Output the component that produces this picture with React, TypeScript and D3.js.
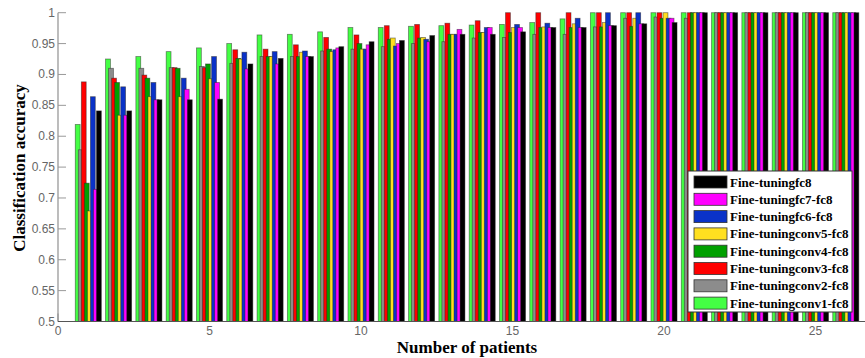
import { useRef, useEffect } from "react";
import * as d3 from "d3";

const patients = d3.range(1, 27);

const seriesNames = [
  "Fine-tuningconv1-fc8",
  "Fine-tuningconv2-fc8",
  "Fine-tuningconv3-fc8",
  "Fine-tuningconv4-fc8",
  "Fine-tuningconv5-fc8",
  "Fine-tuningfc6-fc8",
  "Fine-tuningfc7-fc8",
  "Fine-tuningfc8",
];

const seriesColors = ["#44ff44", "#8c8c8c", "#ff0000", "#00a000", "#ffe020", "#0a32c8", "#ff00ff", "#000000"];

// one array per series, values for patients 1..26
const conv1 = [0.819, 0.925, 0.929, 0.937, 0.943, 0.95, 0.964, 0.965, 0.969, 0.976, 0.976, 0.978, 0.979, 0.98, 0.981, 0.984, 0.99, 1, 1, 1, 1, 1, 1, 1, 1, 1];
const conv2 = [0.778, 0.91, 0.91, 0.911, 0.913, 0.918, 0.929, 0.929, 0.938, 0.941, 0.945, 0.95, 0.953, 0.959, 0.96, 0.965, 0.965, 0.977, 0.991, 0.993, 0.991, 1, 1, 1, 1, 1];
const conv3 = [0.888, 0.894, 0.899, 0.911, 0.911, 0.94, 0.941, 0.948, 0.96, 0.964, 0.979, 0.981, 0.983, 0.987, 1, 1, 1, 1, 1, 1, 1, 1, 1, 1, 1, 1];
const conv4 = [0.724, 0.887, 0.894, 0.91, 0.917, 0.926, 0.929, 0.929, 0.941, 0.95, 0.957, 0.959, 0.965, 0.968, 0.968, 0.976, 0.976, 0.977, 0.978, 0.991, 1, 1, 1, 1, 1, 1];
const conv5 = [0.679, 0.834, 0.864, 0.864, 0.893, 0.925, 0.929, 0.936, 0.937, 0.941, 0.959, 0.96, 0.965, 0.968, 0.976, 0.977, 0.982, 0.984, 0.991, 1, 1, 1, 1, 1, 1, 1];
const fc6 = [0.864, 0.88, 0.887, 0.894, 0.929, 0.936, 0.937, 0.938, 0.94, 0.941, 0.946, 0.957, 0.965, 0.976, 0.981, 0.983, 0.991, 1, 1, 0.991, 1, 1, 1, 1, 1, 1];
const fc7 = [0.714, 0.834, 0.859, 0.876, 0.887, 0.909, 0.917, 0.929, 0.943, 0.948, 0.95, 0.953, 0.973, 0.976, 0.976, 0.976, 0.976, 0.979, 0.982, 0.991, 1, 1, 1, 1, 1, 1];
const fc8 = [0.841, 0.841, 0.859, 0.859, 0.86, 0.917, 0.926, 0.929, 0.945, 0.953, 0.955, 0.963, 0.965, 0.965, 0.969, 0.976, 0.976, 0.979, 0.982, 0.984, 1, 1, 1, 1, 1, 1];

const seriesValues = [conv1, conv2, conv3, conv4, conv5, fc6, fc7, fc8];

const yTicks = d3.range(0.5, 1.0001, 0.05);
const xTicks = [0, 5, 10, 15, 20, 25];

export default function App() {
  const svgRef = useRef<SVGSVGElement>(null);

  useEffect(() => {
    if (!svgRef.current) return;
    const svg = d3.select(svgRef.current);
    svg.selectAll("*").remove();

    const left = 58;
    const top = 12.7;
    const bottom = 321.5;

    const x = d3.scaleLinear().domain([0, 27]).range([left, left + 27 * 30.3]);
    const y = d3.scaleLinear().domain([0.5, 1]).range([bottom, top]);

    // x ticks (inward, behind bars)
    svg
      .append("g")
      .selectAll("line")
      .data(xTicks)
      .join("line")
      .attr("x1", (d) => x(d))
      .attr("x2", (d) => x(d))
      .attr("y1", bottom)
      .attr("y2", bottom - 8)
      .attr("stroke", "#777");

    const bw = 0.16;
    const step = 0.1;
    seriesValues.forEach((vals, i) => {
      svg
        .append("g")
        .selectAll("rect")
        .data(vals)
        .join("rect")
        .attr("x", (_, j) => x(patients[j] + (i - 3.5) * step - bw / 2))
        .attr("y", (d) => y(Math.min(d, 1)))
        .attr("width", x(bw) - x(0))
        .attr("height", (d) => bottom - y(Math.min(d, 1)))
        .attr("fill", seriesColors[i])
        .attr("stroke", "#222")
        .attr("stroke-opacity", 0.55)
        .attr("stroke-width", 0.8);
    });

    // y axis
    svg
      .append("line")
      .attr("x1", left)
      .attr("x2", left)
      .attr("y1", top)
      .attr("y2", bottom)
      .attr("stroke", "#999")
      .attr("stroke-width", 1.3);
    svg
      .append("g")
      .selectAll("line")
      .data(yTicks)
      .join("line")
      .attr("x1", left)
      .attr("x2", left + 8)
      .attr("y1", (d) => y(d))
      .attr("y2", (d) => y(d))
      .attr("stroke", "#999");
    svg
      .append("g")
      .selectAll("text")
      .data(yTicks)
      .join("text")
      .attr("x", left - 3)
      .attr("y", (d) => y(d) + 4)
      .attr("text-anchor", "end")
      .attr("fill", "#666")
      .style("font-family", "'Liberation Sans', Arial, sans-serif")
      .style("font-size", "12px")
      .text((d) => d3.format("")(+d.toFixed(2)));

    // x axis
    svg
      .append("line")
      .attr("x1", left)
      .attr("x2", 865)
      .attr("y1", bottom)
      .attr("y2", bottom)
      .attr("stroke", "#555")
      .attr("stroke-width", 1.2);
    svg
      .append("g")
      .selectAll("text")
      .data(xTicks)
      .join("text")
      .attr("x", (d) => x(d))
      .attr("y", bottom + 13)
      .attr("text-anchor", "middle")
      .attr("fill", "#666")
      .style("font-family", "'Liberation Sans', Arial, sans-serif")
      .style("font-size", "12px")
      .text((d) => d);

    // axis labels
    svg
      .append("text")
      .attr("x", 467)
      .attr("y", 353)
      .attr("text-anchor", "middle")
      .style("font-family", "'Liberation Serif', 'Times New Roman', serif")
      .style("font-weight", "bold")
      .style("font-size", "17px")
      .text("Number of patients");
    svg
      .append("text")
      .attr("transform", "translate(25,168) rotate(-90)")
      .attr("text-anchor", "middle")
      .style("font-family", "'Liberation Serif', 'Times New Roman', serif")
      .style("font-weight", "bold")
      .style("font-size", "17px")
      .text("Classification accuracy");

    // legend
    const lg = svg.append("g");
    lg.append("rect")
      .attr("x", 688)
      .attr("y", 171)
      .attr("width", 164)
      .attr("height", 141)
      .attr("fill", "#fff")
      .attr("stroke", "#333");
    const order = d3.range(seriesNames.length).reverse();
    const rows = lg
      .selectAll("g")
      .data(order)
      .join("g")
      .attr("transform", (_, k) => `translate(694,${182 + k * 17.3})`);
    rows
      .append("rect")
      .attr("x", 0)
      .attr("y", -6)
      .attr("width", 33)
      .attr("height", 12)
      .attr("fill", (i) => seriesColors[i])
      .attr("stroke", "#333")
      .attr("stroke-width", 0.8);
    rows
      .append("text")
      .attr("x", 36)
      .attr("y", 4.5)
      .style("font-family", "'Liberation Serif', 'Times New Roman', serif")
      .style("font-weight", "bold")
      .style("font-size", "13px")
      .text((i) => seriesNames[i]);
  }, []);

  return (
    <svg
      ref={svgRef}
      width={865}
      height={358}
      style={{ position: "absolute", left: 0, top: 0, background: "#fff" }}
    />
  );
}
